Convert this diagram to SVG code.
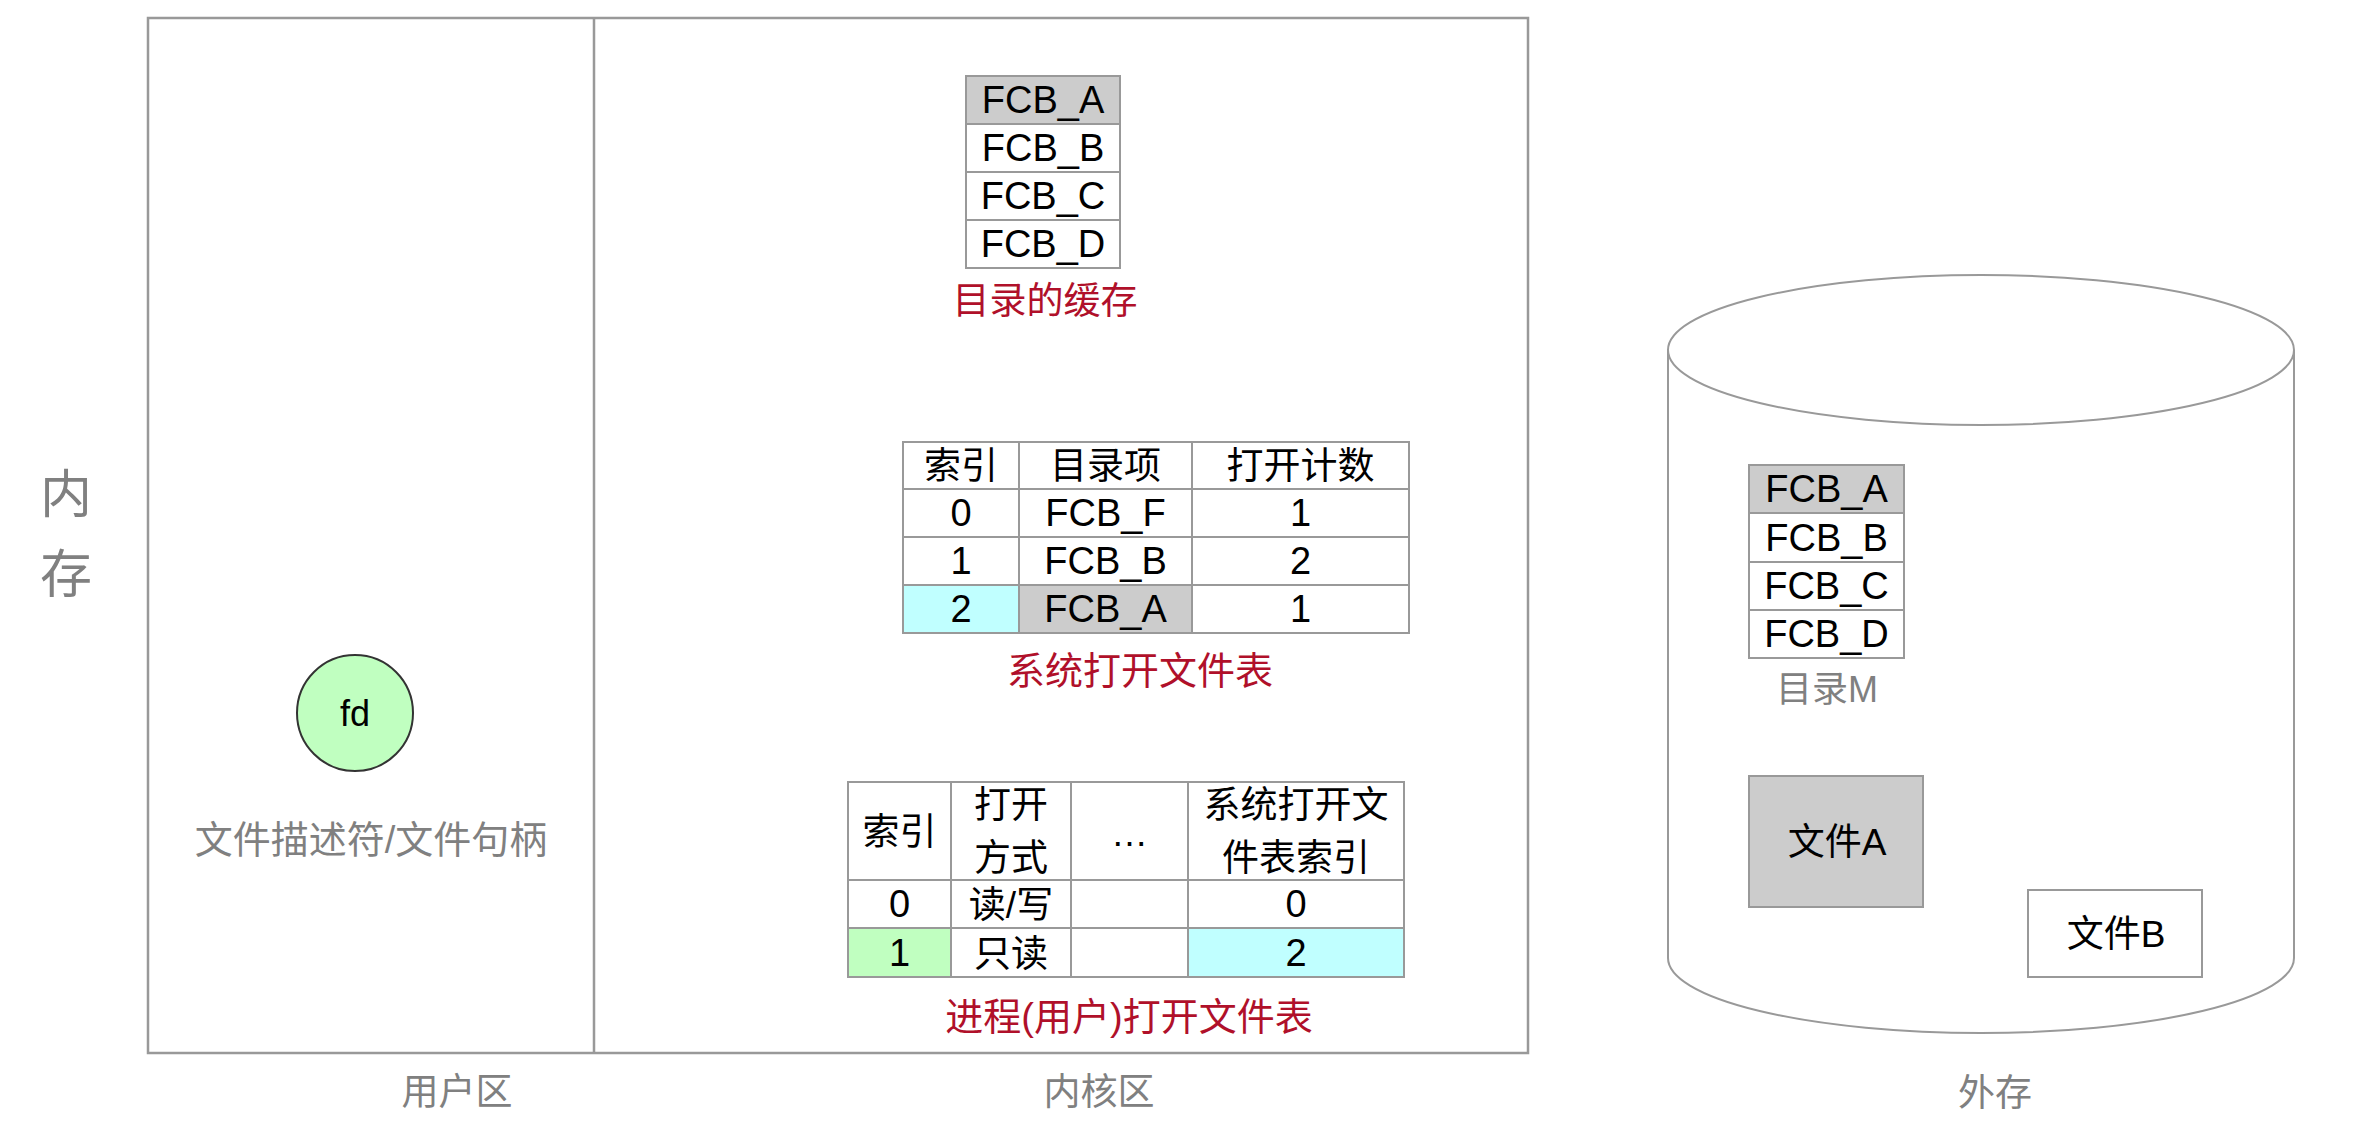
<svg xmlns="http://www.w3.org/2000/svg" width="2368" height="1127" viewBox="0 0 2368 1127">
<style>
text { font-family: "Liberation Sans", "Noto Sans CJK SC", sans-serif; text-anchor: middle; }
.cell { fill: #ffffff; stroke: #999999; stroke-width: 2; }
.gray { fill: #cccccc; }
.cyan { fill: #c0ffff; }
.green { fill: #c0ffc0; }
.frame { fill: none; stroke: #999999; stroke-width: 2.5; }
.lbl { fill: #808080; font-size: 37px; }
.cap { fill: #b0102a; font-size: 38px; }
.txt { fill: #000000; font-size: 37px; }
.num { fill: #000000; font-size: 38px; }
.disk { fill: #ffffff; stroke: #999999; stroke-width: 2; }
</style>
<rect width="2368" height="1127" fill="#ffffff"/>

<g id="memory-label">
  <text class="lbl" x="66" y="513" style="font-size:52px">内</text>
  <text class="lbl" x="66" y="593" style="font-size:52px">存</text>
</g>

<g id="memory-frame">
  <rect class="frame" x="148" y="18" width="1380" height="1035"/>
  <line class="frame" x1="594" y1="18" x2="594" y2="1053"/>
</g>

<g id="user-area">
  <text class="lbl" x="457" y="1105">用户区</text>
</g>

<g id="kernel-area">
  <text class="lbl" x="1099" y="1105">内核区</text>
</g>

<g id="fd">
  <circle cx="355" cy="713" r="58" fill="#c0ffc0" stroke="#333333" stroke-width="2"/>
  <text class="num" x="355" y="726" style="font-size:36px">fd</text>
  <text class="lbl" x="371" y="853" style="font-size:38px">文件描述符/文件句柄</text>
</g>

<g id="dir-cache">
  <rect class="cell gray" x="966" y="76" width="154" height="48"/>
  <rect class="cell" x="966" y="124" width="154" height="48"/>
  <rect class="cell" x="966" y="172" width="154" height="48"/>
  <rect class="cell" x="966" y="220" width="154" height="48"/>
  <text class="num" x="1043" y="113">FCB_A</text>
  <text class="num" x="1043" y="161">FCB_B</text>
  <text class="num" x="1043" y="209">FCB_C</text>
  <text class="num" x="1043" y="257">FCB_D</text>
  <text class="cap" x="1045" y="314" style="font-size:37px">目录的缓存</text>
</g>

<g id="system-open-file-table">
  <rect class="cell" x="903" y="442" width="116" height="47"/>
  <rect class="cell" x="1019" y="442" width="173" height="47"/>
  <rect class="cell" x="1192" y="442" width="217" height="47"/>
  <rect class="cell" x="903" y="489" width="116" height="48"/>
  <rect class="cell" x="1019" y="489" width="173" height="48"/>
  <rect class="cell" x="1192" y="489" width="217" height="48"/>
  <rect class="cell" x="903" y="537" width="116" height="48"/>
  <rect class="cell" x="1019" y="537" width="173" height="48"/>
  <rect class="cell" x="1192" y="537" width="217" height="48"/>
  <rect class="cell cyan" x="903" y="585" width="116" height="48"/>
  <rect class="cell gray" x="1019" y="585" width="173" height="48"/>
  <rect class="cell" x="1192" y="585" width="217" height="48"/>
  <text class="txt" x="961" y="479">索引</text>
  <text class="txt" x="1105.5" y="479">目录项</text>
  <text class="txt" x="1300.5" y="479">打开计数</text>
  <text class="num" x="961" y="526">0</text>
  <text class="num" x="1105.5" y="526">FCB_F</text>
  <text class="num" x="1300.5" y="526">1</text>
  <text class="num" x="961" y="574">1</text>
  <text class="num" x="1105.5" y="574">FCB_B</text>
  <text class="num" x="1300.5" y="574">2</text>
  <text class="num" x="961" y="622">2</text>
  <text class="num" x="1105.5" y="622">FCB_A</text>
  <text class="num" x="1300.5" y="622">1</text>
  <text class="cap" x="1140" y="684">系统打开文件表</text>
</g>

<g id="process-open-file-table">
  <rect class="cell" x="848" y="782" width="103" height="98"/>
  <rect class="cell" x="951" y="782" width="120" height="98"/>
  <rect class="cell" x="1071" y="782" width="117" height="98"/>
  <rect class="cell" x="1188" y="782" width="216" height="98"/>
  <rect class="cell" x="848" y="880" width="103" height="48"/>
  <rect class="cell" x="951" y="880" width="120" height="48"/>
  <rect class="cell" x="1071" y="880" width="117" height="48"/>
  <rect class="cell" x="1188" y="880" width="216" height="48"/>
  <rect class="cell green" x="848" y="928" width="103" height="49"/>
  <rect class="cell" x="951" y="928" width="120" height="49"/>
  <rect class="cell" x="1071" y="928" width="117" height="49"/>
  <rect class="cell cyan" x="1188" y="928" width="216" height="49"/>
  <text class="txt" x="899.5" y="845">索引</text>
  <text class="txt" x="1011" y="818">打开</text>
  <text class="txt" x="1011" y="871">方式</text>
  <text class="txt" x="1129.5" y="846">…</text>
  <text class="txt" x="1296" y="818">系统打开文</text>
  <text class="txt" x="1296" y="871">件表索引</text>
  <text class="num" x="899.5" y="917">0</text>
  <text class="txt" x="1011" y="918">读/写</text>
  <text class="num" x="1296" y="917">0</text>
  <text class="num" x="899.5" y="966">1</text>
  <text class="txt" x="1011" y="967">只读</text>
  <text class="num" x="1296" y="966">2</text>
  <text class="cap" x="1129" y="1030">进程(用户)打开文件表</text>
</g>

<g id="disk">
  <path class="disk" d="M1668 350 V958 A313 75 0 0 0 2294 958 V350"/>
  <ellipse class="disk" cx="1981" cy="350" rx="313" ry="75"/>
  <text class="lbl" x="1995" y="1106">外存</text>
</g>

<g id="directory-m">
  <rect class="cell gray" x="1749" y="465" width="155" height="48"/>
  <rect class="cell" x="1749" y="513" width="155" height="49"/>
  <rect class="cell" x="1749" y="562" width="155" height="48"/>
  <rect class="cell" x="1749" y="610" width="155" height="48"/>
  <text class="num" x="1826.5" y="502">FCB_A</text>
  <text class="num" x="1826.5" y="551">FCB_B</text>
  <text class="num" x="1826.5" y="599">FCB_C</text>
  <text class="num" x="1826.5" y="647">FCB_D</text>
  <text class="lbl" x="1827" y="702" style="font-size:36px">目录M</text>
</g>

<g id="file-a">
  <rect class="cell gray" x="1749" y="776" width="174" height="131"/>
  <text class="txt" x="1837" y="855">文件A</text>
</g>

<g id="file-b">
  <rect class="cell" x="2028" y="890" width="174" height="87"/>
  <text class="txt" x="2116" y="947">文件B</text>
</g>

<g id="connectors"></g>
</svg>
